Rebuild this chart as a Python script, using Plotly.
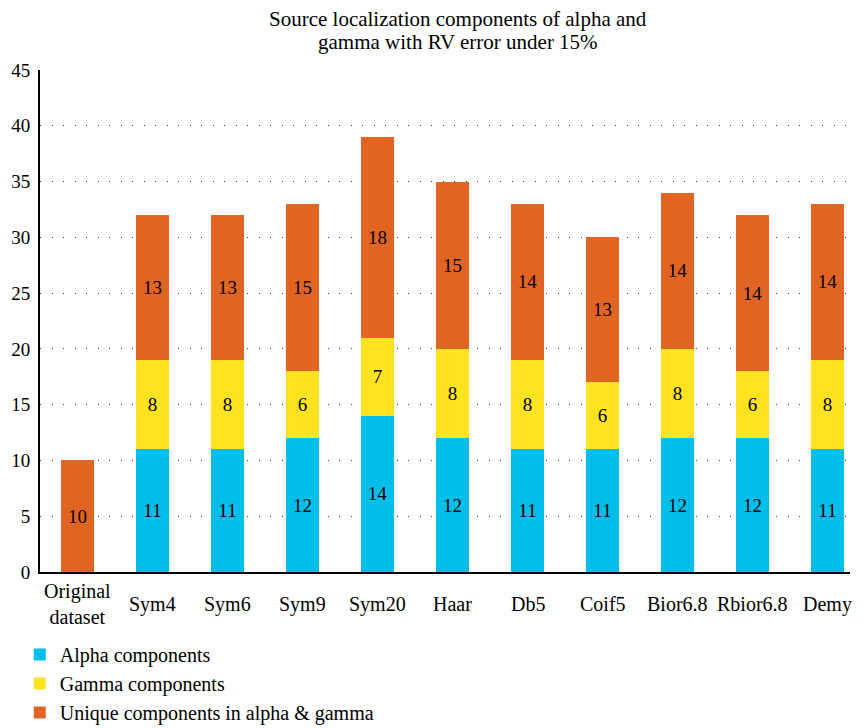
import plotly.graph_objects as go

categories = ["Original<br>dataset", "Sym4", "Sym6", "Sym9", "Sym20", "Haar", "Db5", "Coif5", "Bior6.8", "Rbior6.8", "Demy"]
alpha = [None, 11, 11, 12, 14, 12, 11, 11, 12, 12, 11]
gamma = [None, 8, 8, 6, 7, 8, 8, 6, 8, 6, 8]
unique = [10, 13, 13, 15, 18, 15, 14, 13, 14, 14, 14]
title_lines = ["Source localization components of alpha and", "gamma with RV error under 15%"]

FONT = "Liberation Serif"
colors = {"alpha": "#00BEEA", "gamma": "#FFE320", "unique": "#E06522"}

fig = go.Figure()
for name, vals, col in [
    ("Alpha components", alpha, colors["alpha"]),
    ("Gamma components", gamma, colors["gamma"]),
    ("Unique components in alpha &amp; gamma", unique, colors["unique"]),
]:
    fig.add_trace(go.Bar(
        x=categories, y=vals, name=name, marker=dict(color=col, line=dict(width=0)),
        width=0.44,
        text=[("" if v is None else str(v)) for v in vals],
        textposition="inside", insidetextanchor="middle",
        textfont=dict(family=FONT, size=19, color="black"),
        constraintext="none",
    ))

# category labels as annotations so single-line labels are vertically centred like the reference
for c in categories:
    fig.add_annotation(x=c, xref="x", y=0, yref="paper", yanchor="middle", yshift=-32,
                       text=c, showarrow=False, font=dict(family=FONT, size=20, color="black"),
                       align="center")

# two-line title, one annotation per line
for line, shift in zip(title_lines, [51, 28]):
    fig.add_annotation(x=0.516, xref="paper", xanchor="center", y=1, yref="paper",
                       yanchor="middle", yshift=shift, text=line, showarrow=False,
                       font=dict(family=FONT, size=21, color="black"))

fig.update_layout(
    barmode="stack",
    width=864, height=728,
    margin=dict(l=40, r=14, t=70, b=156),
    paper_bgcolor="white", plot_bgcolor="white",
    font=dict(family=FONT, size=19, color="black"),
    showlegend=True,
    legend=dict(orientation="v", x=-0.025, xanchor="left", y=0.1277, yanchor="top", yref="container",
                traceorder="normal", font=dict(family=FONT, size=20, color="black"),
                itemwidth=30, bgcolor="rgba(0,0,0,0)"),
)
fig.update_xaxes(range=[-0.5, 10.3], showline=True, linecolor="black", linewidth=2,
                 showgrid=False, ticks="", showticklabels=False)
fig.update_yaxes(range=[0, 45], dtick=5, showline=True, linecolor="black", linewidth=2,
                 showgrid=True, gridcolor="#333333", gridwidth=1, griddash="1px,10.5px",
                 zeroline=False, ticks="", ticklabelstandoff=4, tickfont=dict(family=FONT, size=19))

fig.write_html("out.html", config={"displayModeBar": False},
               post_script="document.body.style.margin='0';document.body.style.overflow='hidden';")
